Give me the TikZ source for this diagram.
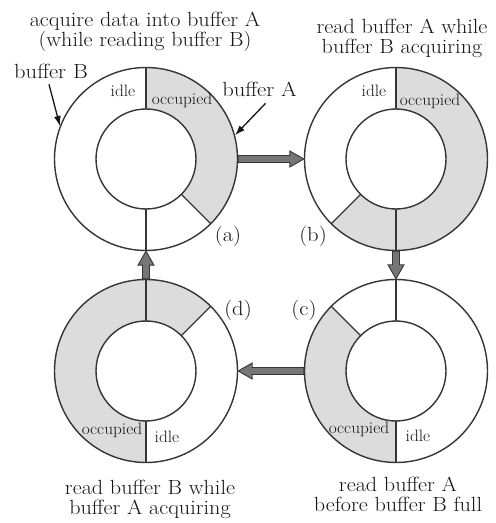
\documentclass[tikz,border=0pt]{standalone}
\usetikzlibrary{calc,arrows.meta}
\definecolor{ln}{HTML}{353535}
\definecolor{occ}{HTML}{DCDCDC}
\definecolor{arrfill}{HTML}{767676}
\definecolor{txt}{HTML}{151515}
\newcommand\occsector[3]{%
  \fill[occ] ($(#1)+(#2:91.5pt)$) arc[start angle=#2, end angle=#3, radius=91.5pt]
    -- ($(#1)+(#3:50pt)$) arc[start angle=#3, end angle=#2, radius=50pt] -- cycle;}
\newcommand\radline[2]{%
  \draw[ringline] ($(#1)+(#2:50pt)$) -- ($(#1)+(#2:91.5pt)$);}
\newcommand\fatarr[2]{%
  \coordinate (fa-n) at ($(#2)!14pt!(#1)$);
  \filldraw[fatarrow]
    ($(#1)!3.5pt!90:(#2)$) -- ($(fa-n)!3.5pt!-90:(#1)$) -- ($(fa-n)!8pt!-90:(#1)$) -- (#2)
    -- ($(fa-n)!8pt!90:(#1)$) -- ($(fa-n)!3.5pt!90:(#1)$) -- ($(#1)!3.5pt!-90:(#2)$) -- cycle;}
\tikzset{
  ringline/.style={draw=ln, line width=1.4pt},
  outerring/.style={circle, ringline, minimum size=183pt, inner sep=0pt},
  innerring/.style={circle, ringline, minimum size=100pt, inner sep=0pt},
  fatarrow/.style={draw=ln, fill=arrfill, line width=0.9pt, line join=miter},
  title/.style={font=\fontsize{20.5}{20}\selectfont, align=center, inner sep=0pt, text=txt, anchor=north, xscale=1.08},
  biglabel/.style={font=\fontsize{20.5}{20}\selectfont, inner sep=0pt, text=txt, xscale=1.1},
  smalllabel/.style={font=\fontsize{16.5}{18}\selectfont, inner sep=0pt, text=txt, anchor=base, xscale=1.05},
  ptr/.style={draw=txt, line width=1.3pt, -{Latex[length=10pt,width=7pt]}}
}
\begin{document}
\begin{tikzpicture}[x=1pt,y=1pt]
\useasboundingbox (0,0) rectangle (496,523);
\coordinate (ac) at (146,364);
\coordinate (bc) at (396,364);
\coordinate (cc) at (396,152);
\coordinate (dc) at (146,152);
% occupied sectors
\occsector{ac}{-45}{90}
\occsector{bc}{-135}{90}
\occsector{cc}{135}{270}
\occsector{dc}{45}{270}
% rings
\node[outerring] (ao) at (ac) {};
\node[innerring] (ai) at (ac) {};
\node[outerring] (bo) at (bc) {};
\node[innerring] (bi) at (bc) {};
\node[outerring] (co) at (cc) {};
\node[innerring] (ci) at (cc) {};
\node[outerring] (do) at (dc) {};
\node[innerring] (di) at (dc) {};
% radial lines
\radline{ac}{90}\radline{ac}{-45}\radline{ac}{270}
\radline{bc}{90}\radline{bc}{225}\radline{bc}{270}
\radline{cc}{90}\radline{cc}{135}\radline{cc}{270}
\radline{dc}{90}\radline{dc}{45}\radline{dc}{270}
% transition arrows
\fatarr{ao.east}{bo.west}
\fatarr{bo.south}{co.north}
\fatarr{co.west}{do.east}
\fatarr{do.north}{ao.south}
% titles
\node[title] (tA) at (145,511.5) {acquire data into buffer A\\(while reading buffer B)};
\node[title] (tB) at (402,503.7) {read buffer A while\\buffer B acquiring};
\node[title] (tC) at (398,46.3) {read buffer A\\before buffer B full};
\node[title] (tD) at (150,43) {read buffer B while\\buffer A acquiring};
% state labels
\node[biglabel] (la) at (228,287) {(a)};
\node[biglabel] (lb) at (313,287) {(b)};
\node[biglabel] (lc) at (304,213) {(c)};
\node[biglabel] (ld) at (238,213) {(d)};
% idle / occupied
\node[smalllabel] (ai1) at (123,426.3) {idle};
\node[smalllabel] (ao1) at (182,418) {occupied};
\node[smalllabel] (bi1) at (374,426.3) {idle};
\node[smalllabel] (bo1) at (430,417.3) {occupied};
\node[smalllabel] (di1) at (167,80.7) {idle};
\node[smalllabel] (do1) at (112,88) {occupied};
\node[smalllabel] (ci1) at (418,81.3) {idle};
\node[smalllabel] (co1) at (359,89.7) {occupied};
% buffer pointers
\node[biglabel, anchor=base] (bB) at (51,444) {buffer B};
\node[biglabel, anchor=base] (bA) at (259.5,426) {buffer A};
\draw[ptr] ([xshift=-2pt,yshift=-5pt]bB.south) -- (ao.159);
\draw[ptr] ([xshift=6pt,yshift=-6pt]bA.south) -- (ao.15);
\end{tikzpicture}
\end{document}
